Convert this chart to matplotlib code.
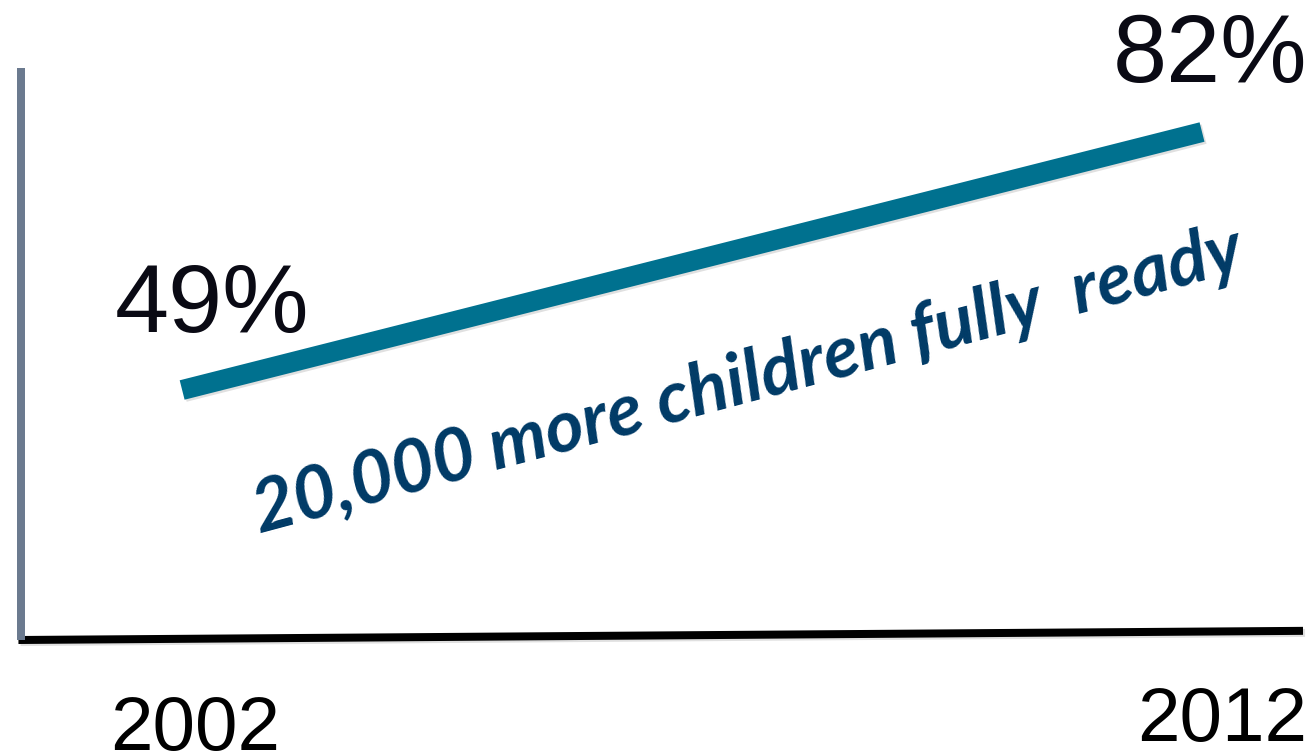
import matplotlib
matplotlib.use("Agg")
import matplotlib.pyplot as plt
import matplotlib.patheffects as pe

# ---- data ----
years = [2002, 2012]
values = [49, 82]
value_labels = ["49%", "82%"]
year_labels = ["2002", "2012"]
annotation = "20,000 more children fully  ready"

W, H, DPI = 1311, 754, 100
fig = plt.figure(figsize=(W / DPI, H / DPI), dpi=DPI)
fig.patch.set_facecolor("white")

# axes box in pixels: left 21, right 1303, top 68, bottom 640
L, R, T, B = 21, 1303, 68, 640
ax = fig.add_axes([L / W, (H - B) / H, (R - L) / W, (B - T) / H])
ax.set_xlim(2000.42, 2012.99)
ax.set_ylim(17.02, 90.19)
ax.set_facecolor("none")
for s in ["top", "right", "bottom"]:
    ax.spines[s].set_visible(False)
ax.spines["left"].set_color("#6b7a8f")
ax.spines["left"].set_linewidth(8 * 0.72)
ax.spines["left"].set_capstyle("butt")
ax.set_xticks([])
ax.set_yticks([])

shadow = [pe.SimpleLineShadow(offset=(1.5, -1.5), shadow_color="k", alpha=0.12), pe.Normal()]

# baseline (slightly tilted, as in the reference)
ax.plot([-0.002, 1.0], [0.0, 0.016], transform=ax.transAxes, color="black",
        lw=8 * 0.72, solid_capstyle="butt", clip_on=False, path_effects=shadow)

# the trend line
ax.plot(years, values, color="#00718f", lw=20 * 0.72, solid_capstyle="butt",
        path_effects=shadow, clip_on=False)

# value labels
offsets = [(29.5, 58), (8, 50)]
for x, v, lab, (dx, dy) in zip(years, values, value_labels, offsets):
    ax.annotate(lab, xy=(x, v), xytext=(dx * 0.72, dy * 0.72), textcoords="offset points",
                ha="center", va="baseline", fontsize=70, family="Liberation Sans",
                color="#0a0a14", annotation_clip=False)

# year labels below the axis
year_offsets = [(13, -110), (20, -101)]
for x, lab, (dx, dy) in zip(years, year_labels, year_offsets):
    ax.annotate(lab, xy=(x, 0), xycoords=("data", "axes fraction"),
                xytext=(dx * 0.72, dy * 0.72), textcoords="offset points",
                ha="center", va="baseline", fontsize=55, family="Liberation Sans",
                color="black", annotation_clip=False)

# rotated annotation
ax.text(2007.6, 47.6, annotation, rotation=15, rotation_mode="anchor",
        ha="center", va="baseline", fontsize=52.5, family="Lato",
        fontweight="bold", fontstyle="italic", color="#003a66")

fig.savefig("out.png", dpi=DPI)
